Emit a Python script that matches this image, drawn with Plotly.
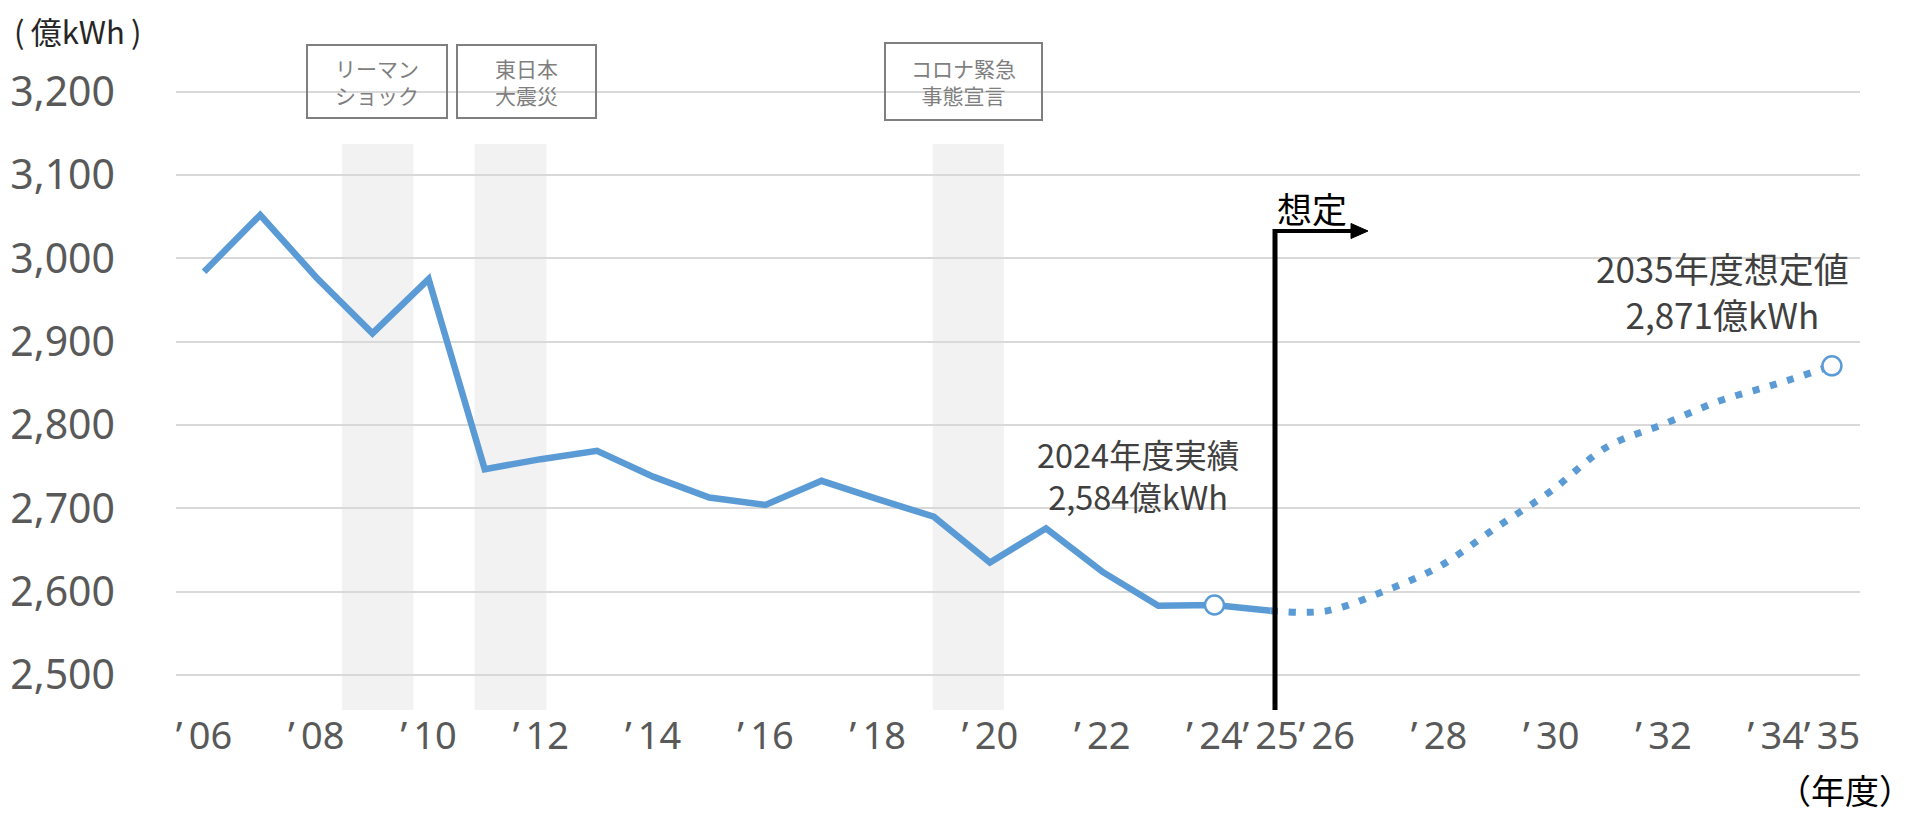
import plotly.graph_objects as go

# ---------------- data ----------------
actual_years = list(range(2006, 2026))
actual_values = [2984, 3052, 2977, 2910, 2975, 2747, 2759, 2769, 2738, 2713,
                 2704, 2733, 2711, 2690, 2635, 2676, 2624, 2583, 2584, 2577]
forecast_years = list(range(2025, 2036))
forecast_values = [2577, 2577, 2600, 2630, 2676, 2721, 2774, 2801, 2829, 2849, 2871]
highlight_years = [2024, 2035]
highlight_values = [2584, 2871]

tick_years = [2006, 2008, 2010, 2012, 2014, 2016, 2018, 2020, 2022, 2024, 2025,
              2026, 2028, 2030, 2032, 2034, 2035]
tick_labels = ["\u2019\u200906", "\u2019\u200908", "\u2019\u200910", "\u2019\u200912",
               "\u2019\u200914", "\u2019\u200916", "\u2019\u200918", "\u2019\u200920",
               "\u2019\u200922", "\u2019\u200924", "\u2019\u200925", "\u2019\u200926",
               "\u2019\u200928", "\u2019\u200930", "\u2019\u200932", "\u2019\u200934",
               "\u2019\u200935"]
y_ticks = [2500, 2600, 2700, 2800, 2900, 3000, 3100, 3200]

events = ["リーマン<br>ショック", "東日本<br>大震災", "コロナ緊急<br>事態宣言"]
event_spans = [(2008.46, 2009.73), (2010.82, 2012.10), (2018.98, 2020.25)]

BLUE = "#5B9BD5"
CJK = "Noto Sans CJK JP"

# ---------------- geometry helpers (layout only) ----------------
OFF = 8                      # page body margin of the html page
W, H = 1913 - OFF, 813 - OFF
PL, PR, PT, PB = 176, 1860, 90, 710   # plot area in reference pixels
XR = (2005.5, 2035.5)
YR = (2458, 3202)


def px2x(px):
    return XR[0] + (px - PL) / (PR - PL) * (XR[1] - XR[0])


def py2y(py):
    return YR[1] - (py - PT) / (PB - PT) * (YR[1] - YR[0])


def pxp(px):
    return (px - PL) / (PR - PL)


def pyp(py):
    return (PB - py) / (PB - PT)


fig = go.Figure()

fig.add_trace(go.Scatter(
    x=actual_years, y=actual_values, mode="lines",
    line=dict(color=BLUE, width=6.5), hoverinfo="skip", showlegend=False))
fig.add_trace(go.Scatter(
    x=forecast_years, y=forecast_values, mode="lines",
    line=dict(color=BLUE, width=7, dash="7px,11px", shape="spline", smoothing=1),
    hoverinfo="skip", showlegend=False))
fig.add_trace(go.Scatter(
    x=highlight_years, y=highlight_values, mode="markers",
    marker=dict(size=19, color="white", line=dict(color=BLUE, width=2.5)),
    hoverinfo="skip", showlegend=False))

shapes = []
for (a, b) in event_spans:
    shapes.append(dict(type="rect", xref="x", yref="y", x0=a, x1=b,
                       y0=YR[0], y1=py2y(144), fillcolor="#F2F2F2",
                       line=dict(width=0), layer="below"))
# "想定" boundary line with right-pointing arrow
boundary = px2x(1275)
arrow_y = py2y(231)
shapes.append(dict(type="line", xref="x", yref="y", x0=boundary, x1=boundary,
                   y0=YR[0], y1=py2y(229), line=dict(color="black", width=5)))
shapes.append(dict(type="line", xref="x", yref="y", x0=px2x(1273), x1=px2x(1353),
                   y0=arrow_y, y1=arrow_y, line=dict(color="black", width=4)))
tri = "M {a},{b} L {c},{d} L {e},{f} Z".format(
    a=px2x(1351), b=py2y(223.5), c=px2x(1368), d=arrow_y, e=px2x(1351), f=py2y(238.5))
shapes.append(dict(type="path", xref="x", yref="y", path=tri,
                   fillcolor="black", line=dict(color="black", width=1)))
fig.update_layout(shapes=shapes)

ann = []
ann.append(dict(xref="paper", yref="paper", x=pxp(1312), y=pyp(207),
                text="想定", showarrow=False, xanchor="center", yanchor="middle",
                font=dict(family=CJK, size=35, color="black")))
boxes = [(377, 81.5, 138, 71), (526.5, 81.5, 137, 71), (963.5, 81.5, 155, 75)]
for txt, (cx, cy, bw, bh) in zip(events, boxes):
    ann.append(dict(xref="paper", yref="paper", x=pxp(cx), y=pyp(cy),
                    text=txt, showarrow=False, xanchor="center", yanchor="middle",
                    width=bw, height=bh, borderpad=0, borderwidth=2,
                    bordercolor="#7F7F7F", align="center", valign="middle",
                    font=dict(family=CJK, size=21, color="#7F7F7F")))
ann.append(dict(xref="paper", yref="paper", x=pxp(1138), y=pyp(474),
                text=f"{highlight_years[0]}年度実績<br>{highlight_values[0]:,}億kWh",
                showarrow=False, xanchor="center", yanchor="middle",
                font=dict(family=CJK, size=32.5, color="#404040")))
ann.append(dict(xref="paper", yref="paper", x=pxp(1722), y=pyp(290),
                text=f"{highlight_years[1]}年度想定値<br>{highlight_values[1]:,}億kWh",
                showarrow=False, xanchor="center", yanchor="middle",
                font=dict(family=CJK, size=35, color="#404040")))
ann.append(dict(xref="paper", yref="paper", x=pxp(12), y=pyp(31),
                text="(\u2009億kWh\u2009)", showarrow=False, xanchor="left", yanchor="middle",
                font=dict(family=CJK, size=31, color="#262626")))
ann.append(dict(xref="paper", yref="paper", x=pxp(1845), y=pyp(790),
                text="（年度）", showarrow=False, xanchor="center", yanchor="middle",
                font=dict(family=CJK, size=34, color="black")))
fig.update_layout(annotations=ann)

fig.update_layout(
    width=W, height=H, autosize=False,
    margin=dict(l=PL - OFF, r=1913 - PR, t=PT - OFF, b=813 - PB, pad=0, autoexpand=False),
    paper_bgcolor="white", plot_bgcolor="white",
    xaxis=dict(range=list(XR), tickmode="array", tickvals=tick_years, ticktext=tick_labels,
               showgrid=False, zeroline=False, showline=False, ticks="", tickangle=0,
               automargin=False,
               tickfont=dict(family="Noto Sans", size=38, color="#595959"),
               ticklabelstandoff=0),
    yaxis=dict(range=list(YR), tickmode="array", tickvals=y_ticks,
               ticktext=[f"{v:,}" for v in y_ticks],
               showgrid=True, gridcolor="#D9D9D9", gridwidth=2, zeroline=False,
               showline=False, ticks="", automargin=False,
               tickfont=dict(family="Noto Sans", size=41, color="#595959"),
               ticklabelstandoff=60),
)

fig.write_html("out.html")
